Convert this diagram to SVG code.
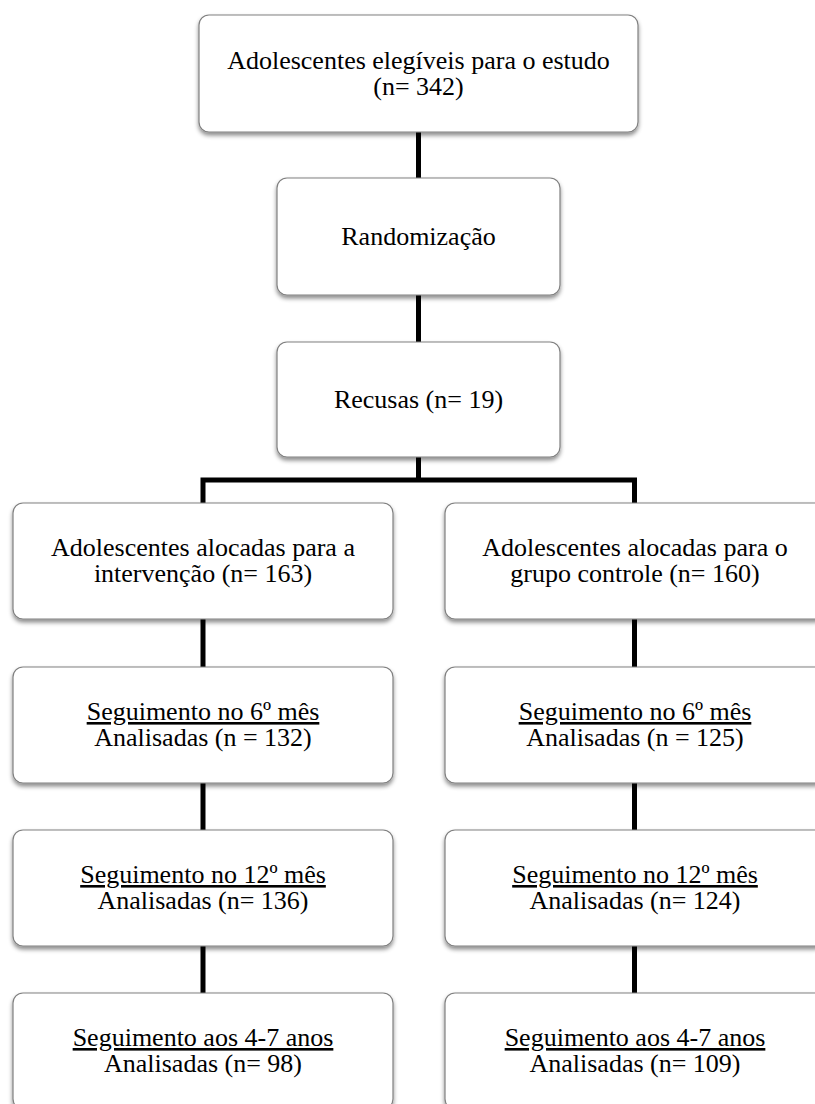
<svg xmlns="http://www.w3.org/2000/svg" width="815" height="1104" viewBox="0 0 815 1104">
  <defs>
    <filter id="sh" x="-10%" y="-10%" width="120%" height="130%">
      <feDropShadow dx="0" dy="3" stdDeviation="2" flood-color="#000" flood-opacity="0.45"/>
    </filter>
  </defs>
  <style>
    .box{fill:#fff;stroke:#808080;stroke-width:1.2;filter:url(#sh)}
    text{font-family:'Liberation Serif','Times New Roman',Tinos,'DejaVu Serif',serif;font-size:26px;fill:#000;text-anchor:middle}
    .u{text-decoration:underline}
    .c{fill:none;stroke:#000;stroke-width:5;stroke-linecap:butt;stroke-linejoin:miter}
  </style>
  <rect width="815" height="1104" fill="#fff"/>

  <g id="connectors">
    <path class="c" d="M418.5,132 V178"/>
    <path class="c" d="M418.5,295 V342"/>
    <path class="c" d="M418.5,457 V480"/>
    <path class="c" d="M203,503 V480 H634.5 V503"/>
    <path class="c" d="M203,619 V667"/>
    <path class="c" d="M203,783 V830"/>
    <path class="c" d="M203,946 V993"/>
    <path class="c" d="M634.5,619 V667"/>
    <path class="c" d="M634.5,783 V830"/>
    <path class="c" d="M634.5,946 V993"/>
  </g>

  <g id="eligiveis">
    <rect class="box" x="199" y="15" width="439" height="117" rx="10"/>
    <text x="418.5" y="69">Adolescentes elegíveis para o estudo</text>
    <text x="418.5" y="95">(n= 342)</text>
  </g>

  <g id="randomizacao">
    <rect class="box" x="277" y="178" width="283" height="117" rx="10"/>
    <text x="418.5" y="245">Randomização</text>
  </g>

  <g id="recusas">
    <rect class="box" x="277" y="342" width="283" height="115" rx="10"/>
    <text x="418.5" y="408">Recusas (n= 19)</text>
  </g>

  <g id="intervencao">
    <rect class="box" x="13" y="503" width="380" height="116" rx="10"/>
    <text x="203" y="556">Adolescentes alocadas para a</text>
    <text x="203" y="582">intervenção (n= 163)</text>
  </g>

  <g id="controle">
    <rect class="box" x="445" y="503" width="380" height="116" rx="10"/>
    <text x="635" y="556">Adolescentes alocadas para o</text>
    <text x="635" y="582">grupo controle (n= 160)</text>
  </g>

  <g id="int-6mes">
    <rect class="box" x="13" y="667" width="380" height="116" rx="10"/>
    <text class="u" x="203" y="720">Seguimento no 6º mês</text>
    <text x="203" y="746">Analisadas (n = 132)</text>
  </g>

  <g id="ctl-6mes">
    <rect class="box" x="445" y="667" width="380" height="116" rx="10"/>
    <text class="u" x="635" y="720">Seguimento no 6º mês</text>
    <text x="635" y="746">Analisadas (n = 125)</text>
  </g>

  <g id="int-12mes">
    <rect class="box" x="13" y="830" width="380" height="116" rx="10"/>
    <text class="u" x="203" y="883">Seguimento no 12º mês</text>
    <text x="203" y="909">Analisadas (n= 136)</text>
  </g>

  <g id="ctl-12mes">
    <rect class="box" x="445" y="830" width="380" height="116" rx="10"/>
    <text class="u" x="635" y="883">Seguimento no 12º mês</text>
    <text x="635" y="909">Analisadas (n= 124)</text>
  </g>

  <g id="int-4a7anos">
    <rect class="box" x="13" y="993" width="380" height="116" rx="10"/>
    <text class="u" x="203" y="1046">Seguimento aos 4-7 anos</text>
    <text x="203" y="1072">Analisadas (n= 98)</text>
  </g>

  <g id="ctl-4a7anos">
    <rect class="box" x="445" y="993" width="380" height="116" rx="10"/>
    <text class="u" x="635" y="1046">Seguimento aos 4-7 anos</text>
    <text x="635" y="1072">Analisadas (n= 109)</text>
  </g>
</svg>
